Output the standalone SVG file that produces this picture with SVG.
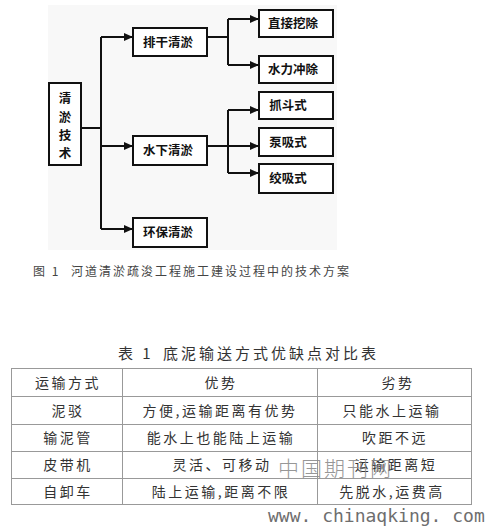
<svg xmlns="http://www.w3.org/2000/svg" width="499" height="528" viewBox="0 0 499 528">
<style>
.box{fill:#fff;stroke:#111;stroke-width:2}
.lbl{font-family:"Noto Sans CJK SC","Noto Sans",sans-serif;font-weight:bold;font-size:12.5px;fill:#111;text-anchor:middle}
.con{fill:none;stroke:#111;stroke-width:2}
.cap{font-family:"Noto Sans CJK SC","Noto Sans",sans-serif;font-size:12px;fill:#444;letter-spacing:2px}
.ttl{font-family:"Noto Sans CJK SC","Noto Sans",sans-serif;font-size:15px;fill:#333;letter-spacing:3px}
.tx{font-family:"Noto Sans CJK SC","Noto Sans",sans-serif;font-size:14px;fill:#333;letter-spacing:2.5px;text-anchor:middle}
.grid{stroke:#999;stroke-width:1;fill:none}
</style>
<defs>
<marker id="ah" markerWidth="9" markerHeight="8" refX="8" refY="4" orient="auto" markerUnits="userSpaceOnUse">
<path d="M0,0 L9,4 L0,8 Z" fill="#111"/>
</marker>
</defs>
<rect width="499" height="528" fill="#fff"/>
<rect x="48" y="5" width="289" height="245" fill="#f8f8f8"/>

<g id="connectors">
<path class="con" d="M81,128 H101"/>
<path class="con" d="M101,37 V229"/>
<path class="con" d="M101,37 H132" marker-end="url(#ah)"/>
<path class="con" d="M101,146 H132" marker-end="url(#ah)"/>
<path class="con" d="M101,229 H132" marker-end="url(#ah)"/>
<path class="con" d="M207,37 H228"/>
<path class="con" d="M228,19 V65"/>
<path class="con" d="M228,19 H258" marker-end="url(#ah)"/>
<path class="con" d="M228,65 H258" marker-end="url(#ah)"/>
<path class="con" d="M207,146 H258" marker-end="url(#ah)"/>
<path class="con" d="M228,110 V173"/>
<path class="con" d="M228,110 H258" marker-end="url(#ah)"/>
<path class="con" d="M228,173 H258" marker-end="url(#ah)"/>
</g>

<g id="root">
<rect class="box" x="49" y="83" width="32" height="82"/>
<text class="lbl" x="65" y="103">清</text>
<text class="lbl" x="65" y="122">淤</text>
<text class="lbl" x="65" y="140">技</text>
<text class="lbl" x="65" y="158">术</text>
</g>
<g id="paigan">
<rect class="box" x="133" y="28" width="74" height="28"/>
<text class="lbl" x="168" y="46.5">排干清淤</text>
</g>
<g id="shuixia">
<rect class="box" x="133" y="136" width="74" height="29"/>
<text class="lbl" x="168" y="155">水下清淤</text>
</g>
<g id="huanbao">
<rect class="box" x="133" y="218" width="74" height="29"/>
<text class="lbl" x="168" y="237">环保清淤</text>
</g>
<g id="zhijie">
<rect class="box" x="259" y="10" width="74" height="27"/>
<text class="lbl" x="293" y="28">直接挖除</text>
</g>
<g id="shuili">
<rect class="box" x="259" y="56" width="74" height="27"/>
<text class="lbl" x="293" y="74">水力冲除</text>
</g>
<g id="zhuadou">
<rect class="box" x="259" y="92" width="74" height="27"/>
<text class="lbl" x="288" y="110">抓斗式</text>
</g>
<g id="bengxi">
<rect class="box" x="259" y="128" width="74" height="28"/>
<text class="lbl" x="288" y="146.5">泵吸式</text>
</g>
<g id="jiaoxi">
<rect class="box" x="259" y="164" width="74" height="29"/>
<text class="lbl" x="288" y="183">绞吸式</text>
</g>

<text class="cap" x="33" y="276">图 1</text>
<text class="cap" x="71" y="276">河道清淤疏浚工程施工建设过程中的技术方案</text>

<text class="ttl" x="118" y="359">表 1</text>
<text class="ttl" x="163" y="359">底泥输送方式优缺点对比表</text>

<g id="table">
<rect class="grid" x="11.5" y="368.5" width="460" height="136"/>
<path class="grid" d="M11.5,396.5 H471.5 M11.5,424.5 H471.5 M11.5,451.5 H471.5 M11.5,478.5 H471.5 M122.5,368.5 V504.5 M317.5,368.5 V504.5"/>
<text class="tx" x="68" y="387.5">运输方式</text>
<text class="tx" x="221" y="387.5">优势</text>
<text class="tx" x="398" y="387.5">劣势</text>
<text class="tx" x="68" y="415.5">泥驳</text>
<text class="tx" x="220" y="415.5">方便,运输距离有优势</text>
<text class="tx" x="392" y="415.5">只能水上运输</text>
<text class="tx" x="68" y="443">输泥管</text>
<text class="tx" x="221" y="443">能水上也能陆上运输</text>
<text class="tx" x="395" y="443">吹距不远</text>
<text class="tx" x="68" y="470">皮带机</text>
<text class="tx" x="222" y="470">灵活、可移动</text>
<text class="tx" x="396" y="470">运输距离短</text>
<text class="tx" x="68" y="497">自卸车</text>
<text class="tx" x="221" y="497">陆上运输,距离不限</text>
<text class="tx" x="392" y="497">先脱水,运费高</text>
</g>

<text x="278" y="476" font-family="'Noto Sans CJK SC',sans-serif" font-size="21" font-weight="300" fill="#8c8c8c" letter-spacing="2" opacity="0.9">中国期刊网</text>
<text x="268" y="522" font-family="'DejaVu Sans Mono',monospace" font-size="18" fill="#6e6e6e">www. chinaqking. com</text>
</svg>
